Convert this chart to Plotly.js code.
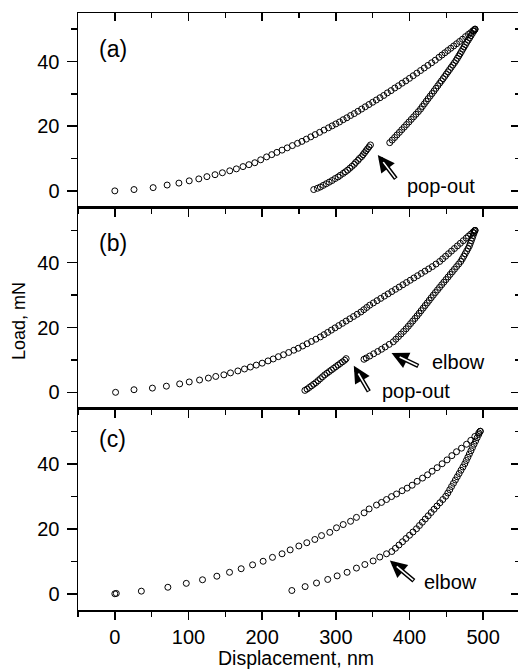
<!DOCTYPE html>
<html>
<head>
<meta charset="utf-8">
<script src="https://cdn.plot.ly/plotly-3.0.1.min.js"></script>
<style>
html,body{margin:0;padding:0;overflow:hidden;background:#fff;}
#chart{width:522px;height:670px;}
</style>
</head>
<body>
<div id="chart"></div>
<script>
// ---------- Panel (a) ----------
const aLoadX = [0,26,52,71,87,101,114,125,136,146,156,165,174,182,190,198,206,213,220,227,234,241,248,254,260,266,272,278,284,290,295,300,305,310,315,320,325,330,335,340,345,350,355,360,365,370,375,380,385,390,395,400,405,410,415,420,425,430,435,440,444,448,452,456,460,464,468,472,476,480,483,486,488,489];
const aLoadY = [0,0.4,1.0,1.8,2.4,3.1,3.7,4.4,5.0,5.6,6.2,6.8,7.5,8.1,8.7,9.6,10.5,11.2,11.9,12.6,13.3,14.0,14.7,15.3,16.0,16.7,17.4,18.1,18.8,19.5,20.1,20.7,21.3,22.0,22.6,23.3,23.9,24.6,25.3,26.0,26.7,27.4,28.1,28.8,29.5,30.3,31.0,31.8,32.5,33.3,34.0,34.8,35.6,36.4,37.2,38.0,38.8,39.6,40.4,41.3,42.0,42.7,43.4,44.1,44.8,45.5,46.2,46.9,47.7,48.4,48.9,49.5,49.8,50.0];
const aUnloadX = [489,487.4,485.4,483.5,481.6,479.7,477.7,475.9,474.1,472.3,470.5,468.7,466.9,465.0,463.1,461.0,458.8,456.6,454.4,452.2,450.0,447.8,445.6,443.3,441.0,438.4,435.8,433.3,430.7,428.0,425.3,422.7,420.1,417.5,415.0,412.0,408.8,405.6,402.4,399.2,396.0,392.8,389.5,386.3,383.0,379.8,376.5,373.2];
const aUnloadY = [50.0,49.4,48.7,48.0,47.3,46.6,45.9,45.2,44.5,43.8,43.1,42.4,41.7,41.0,40.3,39.6,38.9,38.2,37.5,36.8,36.1,35.4,34.7,34.0,33.3,32.5,31.7,30.9,30.1,29.3,28.5,27.7,26.9,26.1,25.3,24.5,23.7,22.9,22.1,21.3,20.5,19.7,18.9,18.1,17.3,16.5,15.7,14.9];
const aPopX = [347,345,343,341,339,337,335,332,330,327,325,322,319,316,313,310,306,303,299,295,291,287,283,279,275,270];
const aPopY = [14.2,13.6,13.0,12.4,11.8,11.2,10.6,10.0,9.4,8.8,8.2,7.6,7.0,6.4,5.9,5.4,4.8,4.3,3.8,3.2,2.7,2.2,1.7,1.2,0.8,0.4];

// ---------- Panel (b) ----------
const bLoadX = [1,26,51,70,88,101,115,127,137,148,157,167,176,184,192,200,208,215,222,229,236,243,249,255,261,267,273,279,284,289,294,299,304,309,314,319,324,329,334,338,342,346,351,356,361,366,371,376,381,386,391,396,401,406,411,416,421,426,431,436,441,445,449,453,457,461,465,469,473,477,480,483,486,488,489];
const bLoadY = [0,0.8,1.3,1.9,2.6,3.2,3.8,4.4,4.9,5.4,6.0,6.6,7.2,7.8,8.4,9.0,9.7,10.3,11.0,11.6,12.3,13.0,13.6,14.3,15.0,15.7,16.4,17.1,17.8,18.5,19.2,19.9,20.6,21.3,22.0,22.7,23.4,24.1,24.8,25.5,26.2,26.9,27.6,28.3,29.0,29.7,30.4,31.1,31.8,32.5,33.2,33.9,34.6,35.3,36.0,36.7,37.4,38.1,38.8,39.6,40.4,41.2,42.0,42.8,43.6,44.4,45.2,46.0,46.8,47.6,48.2,48.8,49.4,49.8,50.0];
const bUnloadX = [489,487.7,486.4,485.2,483.9,482.6,481.3,479.5,477.6,475.6,473.7,471.7,469.6,466.8,463.9,461.0,458.1,455.2,452.4,449.5,446.6,443.7,440.8,438.0,435.1,432.3,429.5,426.8,424.1,421.3,418.6,415.8,413.1,410.3,407.4,404.4,401.4,398.4,395.4,392.0,388.5,385.0,381.5,378.0,372.5,367.0,362.1,356.9,351.4,346.0,341.3,338.2];
const bUnloadY = [50,49.2,48.4,47.6,46.8,46.0,45.2,44.4,43.6,42.8,42.0,41.2,40.4,39.6,38.8,38.0,37.2,36.4,35.6,34.8,34.0,33.2,32.4,31.6,30.8,30.0,29.2,28.4,27.6,26.8,26.0,25.2,24.4,23.6,22.8,22.0,21.2,20.4,19.6,18.8,18.0,17.2,16.4,15.6,14.8,14.0,13.3,12.6,11.9,11.2,10.6,10.2];
const bPopX = [258,261,264,267,270,273,276,279,282,285,288,291,294,297,300,303,306,309,312,314];
const bPopY = [0.6,1.0,1.5,2.0,2.5,3.0,3.6,4.2,4.8,5.4,5.9,6.4,6.9,7.4,7.9,8.4,8.9,9.4,9.9,10.4];

// ---------- Panel (c) ----------
const cLoadX = [0,2,36,72,97,119,138.5,155.7,171.5,187,201.3,214,227,238,249.8,260.6,271.5,280.6,291.8,300.9,310,320,328,338.4,345.2,355.2,362,368.8,375.6,382.4,390,396.8,403.6,410.4,417.7,424.5,430.7,437.5,444.3,451,457.5,463.8,470.6,477.4,483.2,488.7,494,496];
const cLoadY = [0,0.1,0.8,2.0,3.2,4.3,5.4,6.6,7.7,8.9,10.0,11.2,12.3,13.5,14.7,15.7,16.7,17.9,18.9,20.3,21.3,22.3,23.5,24.9,26.1,27.3,28.1,29.0,29.9,30.7,31.7,32.5,33.4,34.6,35.6,36.6,37.7,38.8,40.0,41.2,42.5,43.7,44.8,46.0,47.2,48.4,49.5,50.0];
const cUnloadX = [496,494,491.8,489.7,487.6,485.5,483.4,481.3,479.2,477.1,475,472.5,469.9,467.4,464.8,462.3,459.7,457.1,454.6,452,449.2,445.2,441.3,437.3,433.3,429.4,425.4,421.4,417.4,413.5,409.5,404.7,400,395.2,390.5,385.7,380.9,376,368.8,359.7,350.6,339.4,328,315.3,301.8,289,273.8,258.3,240.3];
const cUnloadY = [50,49,48,47,46,45,44,43,42,41,40,39,38,37,36,35,34,33,32,31,30,29,28,27,26,25,24,23,22,21,20,19,18,17,16,15,14,13,12.3,11.3,10.1,9.0,7.9,6.6,5.5,4.4,3.3,2.2,1.0];

const xTickVals = [0,100,200,300,400,500];
const xTickText = ['0','100','200','300','400','500'];
const yTickVals = [0,20,40];
const yTickText = ['0','20','40'];

const FONT = 'Liberation Sans, Arial, Helvetica, sans-serif';
const mk = {symbol:'circle-open', size:6, color:'#000', line:{width:1, color:'#000'}};
function tr(x, y, xa, ya){ return {x:x, y:y, xaxis:xa, yaxis:ya, type:'scatter', mode:'markers', marker:mk, hoverinfo:'skip'}; }

const data = [
  tr(aLoadX, aLoadY, 'x3', 'y3'), tr(aUnloadX, aUnloadY, 'x3', 'y3'), tr(aPopX, aPopY, 'x3', 'y3'),
  tr(bLoadX, bLoadY, 'x2', 'y2'), tr(bUnloadX, bUnloadY, 'x2', 'y2'), tr(bPopX, bPopY, 'x2', 'y2'),
  tr(cLoadX, cLoadY, 'x', 'y'), tr(cUnloadX, cUnloadY, 'x', 'y'),
  // empty traces to register the mirror-tick overlay axes
  {x:[], y:[], xaxis:'x', yaxis:'y4', type:'scatter', mode:'markers'},
  {x:[], y:[], xaxis:'x2', yaxis:'y5', type:'scatter', mode:'markers'},
  {x:[], y:[], xaxis:'x3', yaxis:'y6', type:'scatter', mode:'markers'},
  {x:[], y:[], xaxis:'x4', yaxis:'y3', type:'scatter', mode:'markers'}
];

const XR = [-50, 550];
const rA = [-5, 55], rB = [-5, 57.2], rC = [-5, 57];
const dC = [0, 0.3375], dB = [0.3375, 0.675], dA = [0.675, 1];

function xAx(anchor, labels){
  return {anchor:anchor, domain:[0,1], range:XR, tickmode:'array', tickvals:xTickVals, ticktext:xTickText,
    showticklabels:labels, ticks:'outside', ticklen:8, tickwidth:1.5, tickcolor:'#000',
    minor:{tickmode:'linear', tick0:0, dtick:50, ticks:'outside', ticklen:5, tickwidth:1.5, tickcolor:'#000'},
    showline:true, mirror:true, linecolor:'#000', linewidth:1.5, showgrid:false, zeroline:false,
    tickfont:{size:20, family:FONT, color:'#000'}, fixedrange:true};
}
function yAx(anchor, dom, rng){
  return {anchor:anchor, domain:dom, range:rng, tickmode:'array', tickvals:yTickVals, ticktext:yTickText,
    ticks:'outside', ticklen:10, tickwidth:1.5, tickcolor:'#000', ticklabelstandoff:3,
    minor:{tickmode:'linear', tick0:0, dtick:10, ticks:'outside', ticklen:6, tickwidth:1.5, tickcolor:'#000'},
    showline:true, mirror:true, linecolor:'#000', linewidth:1.5, showgrid:false, zeroline:false,
    tickfont:{size:20, family:FONT, color:'#000'}, fixedrange:true};
}
function yRight(over, anchor, rng){
  return {overlaying:over, anchor:anchor, side:'right', range:rng, tickmode:'array', tickvals:yTickVals,
    showticklabels:false, ticks:'inside', ticklen:9, tickwidth:1.5, tickcolor:'#000',
    minor:{tickmode:'linear', tick0:0, dtick:10, ticks:'inside', ticklen:5, tickwidth:1.5, tickcolor:'#000'},
    showline:false, showgrid:false, zeroline:false, fixedrange:true};
}

function arrow(xa, ya, hx, hy, tx, ty){
  return [
    {xref:xa, yref:ya, axref:xa, ayref:ya, x:hx, y:hy, ax:tx, ay:ty, showarrow:true, text:'',
     arrowhead:2, arrowsize:0.75, arrowwidth:4.5, arrowcolor:'#000'},
    {xref:xa, yref:ya, axref:xa, ayref:ya, x:hx, y:hy, ax:tx, ay:ty, showarrow:true, text:'',
     arrowhead:0, arrowwidth:1.6, arrowcolor:'#fff', standoff:9, startstandoff:1}
  ];
}
function label(xa, ya, x, y, t){
  return {xref:xa, yref:ya, x:x, y:y, text:t, showarrow:false, xanchor:'left', yanchor:'middle',
    font:{size:20, family:FONT, color:'#000'}};
}

const annotations = [].concat(
  arrow('x3','y3', 357, 11.1, 383, 3.3), [label('x3','y3', 393.6, 1.4, 'pop-out')],
  arrow('x2','y2', 375.6, 12.1, 414, 7.9), [label('x2','y2', 427.6, 9.5, 'elbow')],
  arrow('x2','y2', 324.4, 8.2, 346, -0.2), [label('x2','y2', 359.7, 0.55, 'pop-out')],
  arrow('x','y', 373.3, 10.2, 408, 3.6), [label('x','y', 416.3, 3.6, 'elbow')],
  [
    {xref:'x3', yref:'y3', x:-24.4, y:44, text:'(a)', showarrow:false, xanchor:'left', yanchor:'middle', font:{size:23, family:FONT, color:'#000'}},
    {xref:'x2', yref:'y2', x:-24.4, y:46.1, text:'(b)', showarrow:false, xanchor:'left', yanchor:'middle', font:{size:23, family:FONT, color:'#000'}},
    {xref:'x', yref:'y', x:-24.4, y:47.5, text:'(c)', showarrow:false, xanchor:'left', yanchor:'middle', font:{size:23, family:FONT, color:'#000'}},
    {xref:'paper', yref:'paper', x:0.493, y:-0.0805, text:'Displacement, nm', showarrow:false, xanchor:'center', yanchor:'middle', font:{size:19.5, family:FONT, color:'#000'}},
    {xref:'paper', yref:'paper', x:-0.1335, y:0.484, text:'Load, mN', textangle:-90, showarrow:false, xanchor:'center', yanchor:'middle', font:{size:18, family:FONT, color:'#000'}}
  ]
);

const layout = {
  width:522, height:670,
  margin:{l:78, r:2, t:13, b:60, pad:0},
  paper_bgcolor:'#fff', plot_bgcolor:'#fff',
  showlegend:false,
  font:{family:FONT, size:20, color:'#000'},
  xaxis: xAx('y', true),
  xaxis2: xAx('y2', false),
  xaxis3: xAx('y3', false),
  xaxis4: {overlaying:'x3', anchor:'y3', side:'top', range:XR, tickmode:'array', tickvals:xTickVals,
    showticklabels:false, ticks:'inside', ticklen:8, tickwidth:1.5, tickcolor:'#000',
    minor:{tickmode:'linear', tick0:0, dtick:50, ticks:'inside', ticklen:5, tickwidth:1.5, tickcolor:'#000'},
    showline:false, showgrid:false, zeroline:false, fixedrange:true},
  yaxis: yAx('x', dC, rC),
  yaxis2: yAx('x2', dB, rB),
  yaxis3: yAx('x3', dA, rA),
  yaxis4: yRight('y', 'x', rC),
  yaxis5: yRight('y2', 'x2', rB),
  yaxis6: yRight('y3', 'x3', rA),
  annotations: annotations
};

Plotly.newPlot('chart', data, layout, {staticPlot:true, displayModeBar:false});
</script>
</body>
</html>
